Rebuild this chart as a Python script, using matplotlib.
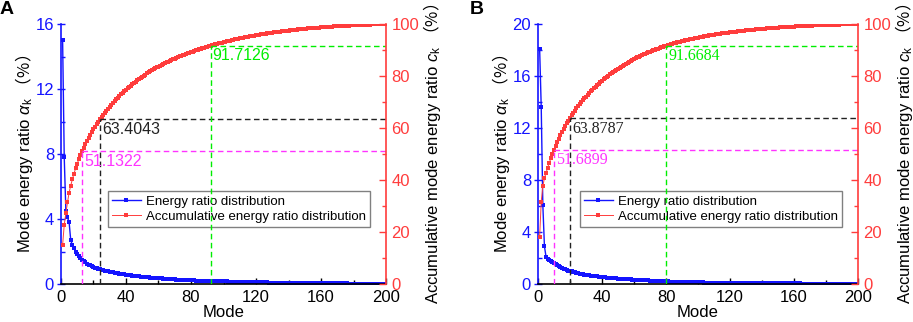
import matplotlib
matplotlib.use("Agg")
import matplotlib.pyplot as plt
import numpy as np
from matplotlib.ticker import MultipleLocator

plt.rcParams['font.family'] = ['Liberation Sans', 'Noto Sans CJK SC']
plt.rcParams['mathtext.fontset'] = 'custom'
plt.rcParams['mathtext.rm'] = 'Liberation Sans'
plt.rcParams['mathtext.it'] = 'Liberation Sans:italic'
plt.rcParams['mathtext.sf'] = 'Noto Sans CJK SC'

# mode index 1..200
mode = np.arange(1, 201)

# energy ratio (%) of each mode, panel A
ratio_a = [
    15.0, 7.8, 4.5, 4.1, 3.8,
    2.7, 2.4, 2.2, 2.0, 1.85, 1.7, 1.6, 1.48,
    1.40, 1.33, 1.26, 1.20, 1.14, 1.09, 1.04, 1.00, 0.96, 0.93, 0.92,
    0.88, 0.85, 0.82, 0.79, 0.77, 0.75, 0.73, 0.71, 0.69, 0.67,
    0.65, 0.63, 0.62, 0.60, 0.59, 0.57, 0.56, 0.55, 0.53, 0.52,
    0.50, 0.49, 0.48, 0.47, 0.46, 0.45, 0.44, 0.43, 0.42, 0.41,
    0.40, 0.39, 0.38, 0.37, 0.36, 0.35, 0.34, 0.34, 0.33, 0.32,
    0.31, 0.30, 0.30, 0.29, 0.28, 0.28, 0.27, 0.26, 0.26, 0.25,
    0.25, 0.25, 0.24, 0.24, 0.23, 0.23, 0.22, 0.22, 0.21, 0.21,
    0.21, 0.21, 0.20, 0.20, 0.19, 0.19, 0.19, 0.18,
    0.18, 0.18, 0.18, 0.18, 0.17, 0.17, 0.17, 0.17, 0.16, 0.16,
    0.15, 0.15, 0.15, 0.14, 0.14, 0.14, 0.14, 0.13, 0.13, 0.13,
    0.13, 0.12, 0.12, 0.12, 0.12, 0.11, 0.11, 0.11, 0.11, 0.11,
    0.10, 0.10, 0.10, 0.10, 0.10, 0.09, 0.09, 0.09, 0.09, 0.09,
    0.09, 0.08, 0.08, 0.08, 0.08, 0.08, 0.08, 0.07, 0.07, 0.07,
    0.07, 0.07, 0.07, 0.07, 0.06, 0.06, 0.06, 0.06, 0.06, 0.06,
    0.06, 0.06, 0.05, 0.05, 0.05, 0.05, 0.05, 0.05, 0.05, 0.05,
    0.05, 0.05, 0.04, 0.04, 0.04, 0.04, 0.04, 0.04, 0.04, 0.04,
    0.04, 0.04, 0.04, 0.04, 0.03, 0.03, 0.03, 0.03, 0.03, 0.03,
    0.03, 0.03, 0.03, 0.03, 0.03, 0.03, 0.03, 0.03, 0.03, 0.02,
    0.02, 0.02, 0.01, 0.01, 0.01, 0.01, 0.01, 0.01,
]

# energy ratio (%) of each mode, panel B
ratio_b = [
    18.1, 13.6, 6.1, 2.9, 2.1,
    1.95, 1.85, 1.77, 1.70, 1.62,
    1.52, 1.43, 1.35, 1.28, 1.22, 1.17, 1.12, 1.07, 1.03, 1.00,
    0.98, 0.94, 0.90, 0.86, 0.83, 0.80, 0.77, 0.75, 0.73, 0.71,
    0.69, 0.67, 0.65, 0.63, 0.61, 0.59, 0.58, 0.56, 0.55, 0.53,
    0.52, 0.51, 0.49, 0.48, 0.47, 0.46, 0.45, 0.44, 0.43, 0.42,
    0.41, 0.40, 0.39, 0.38, 0.37, 0.36, 0.36, 0.35, 0.34, 0.33,
    0.32, 0.31, 0.30, 0.30, 0.29, 0.28, 0.28, 0.27, 0.27, 0.26,
    0.25, 0.24, 0.23, 0.23, 0.22, 0.22, 0.21, 0.21, 0.21, 0.20,
    0.20, 0.19, 0.19, 0.18, 0.18, 0.17, 0.17, 0.17, 0.16, 0.16,
    0.16, 0.15, 0.15, 0.15, 0.14, 0.14, 0.14, 0.13, 0.13, 0.12,
    0.12, 0.12, 0.12, 0.11, 0.11, 0.11, 0.11, 0.11, 0.10, 0.10,
    0.10, 0.10, 0.09, 0.09, 0.09, 0.09, 0.09, 0.09, 0.08, 0.08,
    0.08, 0.08, 0.08, 0.07, 0.07, 0.07, 0.07, 0.07, 0.07, 0.07,
    0.06, 0.06, 0.06, 0.06, 0.06, 0.06, 0.06, 0.06, 0.05, 0.05,
    0.06, 0.05, 0.05, 0.05, 0.05, 0.05, 0.05, 0.05, 0.05, 0.05,
    0.05, 0.04, 0.04, 0.04, 0.04, 0.04, 0.04, 0.04, 0.04, 0.04,
    0.04, 0.04, 0.04, 0.04, 0.03, 0.03, 0.03, 0.03, 0.03, 0.03,
    0.03, 0.03, 0.03, 0.03, 0.03, 0.03, 0.03, 0.02, 0.02, 0.02,
    0.02, 0.02, 0.02, 0.02, 0.02, 0.02, 0.02, 0.02, 0.02, 0.02,
    0.01, 0.01, 0.01, 0.01, 0.01, 0.01, 0.01, 0.01, 0.01, 0.01,
]

# marked modes and their cumulative values
marks_a = [13, 24, 92]
mark_vals_a = [51.1322, 63.4043, 91.7126]
marks_b = [10, 20, 80]
mark_vals_b = [51.6899, 63.8787, 91.6684]
mark_colors = ['#ff33ff', '#222222', '#00ee00']

BLUE = '#1414ff'
RED = '#ff3c3c'

fig = plt.figure(figsize=(9.13, 3.22), dpi=100)


def draw_panel(rect, ratio, ymax, marks, vals, mark_font, letter, letter_x):
    ax = fig.add_axes(rect)
    ax2 = ax.twinx()
    cum = np.cumsum(ratio)

    l1, = ax.plot(mode, ratio, '-s', color=BLUE, lw=1, ms=2.6, mew=0)
    l2, = ax2.plot(mode, cum, '-s', color=RED, lw=0.7, ms=3.0, mew=0)

    for x, v, c in zip(marks, vals, mark_colors):
        ax2.plot([x, x], [0, v], ls=(0, (4, 2.5)), color=c, lw=1)
        ax2.plot([x, 200], [v, v], ls=(0, (4, 2.5)), color=c, lw=1)
        ax2.text(x + 1.3, v - 1.0, f'{v:.4f}', color=c, fontsize=11.5,
                 family=mark_font, va='top', ha='left')

    ax.set_xlim(0, 200)
    ax.set_ylim(0, ymax)
    ax2.set_ylim(0, 100)
    ax.xaxis.set_major_locator(MultipleLocator(40))
    ax.xaxis.set_minor_locator(MultipleLocator(20))
    ax.yaxis.set_major_locator(MultipleLocator(4))
    ax.yaxis.set_minor_locator(MultipleLocator(2))
    ax2.yaxis.set_major_locator(MultipleLocator(20))
    ax2.yaxis.set_minor_locator(MultipleLocator(10))

    ax.spines['top'].set_visible(False)
    ax.spines['right'].set_visible(False)
    ax.spines['left'].set_color(BLUE)
    ax.spines['left'].set_linewidth(1.2)
    ax.spines['bottom'].set_linewidth(1.2)
    for s in ['top', 'left', 'bottom']:
        ax2.spines[s].set_visible(False)
    ax2.spines['right'].set_color(RED)
    ax2.spines['right'].set_linewidth(1.2)

    ax.tick_params(axis='x', which='major', direction='in', length=4, width=1, labelsize=12, pad=4)
    ax.tick_params(axis='x', which='minor', direction='in', length=3, width=1)
    ax.tick_params(axis='y', which='major', direction='inout', length=6, width=1,
                   colors=BLUE, labelsize=12, pad=2)
    ax.tick_params(axis='y', which='minor', direction='in', length=3, width=1, colors=BLUE)
    ax2.tick_params(axis='y', which='major', direction='in', length=5, width=1,
                    colors=RED, labelsize=12, pad=4)
    ax2.tick_params(axis='y', which='minor', direction='in', length=3, width=1, colors=RED)

    ax.set_xlabel('Mode', fontsize=12, labelpad=0)
    ax.set_ylabel(r'Mode energy ratio $\alpha_{\mathrm{k}}$ $\mathsf{（\%）}$', fontsize=12, labelpad=0)
    ax2.set_ylabel(r'Accumulative mode energy ratio $c_{\mathrm{k}}$ $\mathsf{（\%）}$', fontsize=12,
                   labelpad=1)

    leg = ax.legend([l1, l2], ['Energy ratio distribution', 'Accumulative energy ratio distribution'],
                    loc='upper right', bbox_to_anchor=(0.95, 0.356), fontsize=9.5,
                    fancybox=False, edgecolor='#808080', framealpha=1, handlelength=2.2,
                    borderpad=0.3, labelspacing=0.2, handletextpad=0.4, borderaxespad=0)
    leg.get_frame().set_linewidth(1)

    fig.text(letter_x, 0.998, letter, fontsize=14, fontweight='bold', va='top', ha='left')


draw_panel([0.0668, 0.118, 0.356, 0.807], ratio_a, 16, marks_a, mark_vals_a,
           'Liberation Sans', 'A', 0.0)
draw_panel([0.5893, 0.118, 0.3505, 0.807], ratio_b, 20, marks_b, mark_vals_b,
           'Liberation Serif', 'B', 0.515)

plt.savefig('out.png', dpi=100)
